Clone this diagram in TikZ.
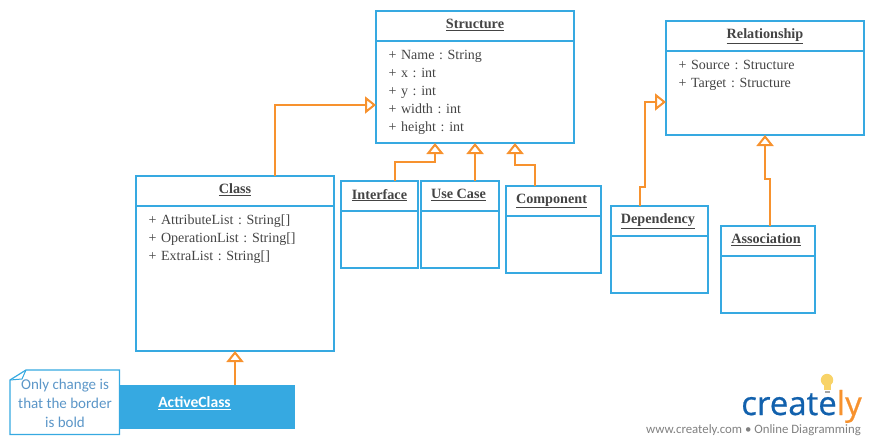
\documentclass[tikz,border=0pt]{standalone}
\usepackage{fontspec}
\setmainfont{Liberation Serif}
\newfontfamily\notefont{Carlito}
\newfontfamily\logofont[FakeBold=0.6]{Open Sans}
\usetikzlibrary{arrows.meta, positioning, calc}
\definecolor{umlblue}{HTML}{36A9E1}
\definecolor{umlorange}{HTML}{F7922E}
\definecolor{umltext}{HTML}{444444}
\definecolor{notetext}{HTML}{5B96C8}
\definecolor{logoblue}{HTML}{1261AD}
\definecolor{bulbyellow}{HTML}{F8D368}
\tikzset{
  x=1pt, y=-1pt,
  umltitle/.style={draw=umlblue, line width=1.8pt, outer sep=0pt, inner sep=0pt, anchor=north west,
    font=\fontsize{14.2}{14}\selectfont\bfseries\frenchspacing, text=umltext, align=center},
  umlbody/.style={draw=umlblue, line width=1.8pt, outer sep=0pt, inner sep=0pt, below=0pt of #1,
    font=\fontsize{14}{18}\selectfont\frenchspacing, text=umltext, align=left},
  inherit/.style={draw=umlorange, line width=2pt,
    -{Triangle[open, fill=white, length=11pt, width=17pt, line width=2pt]}},
}
\begin{document}
\begin{tikzpicture}
\useasboundingbox (0,0) rectangle (875,445);
% base class
\node[umltitle, minimum width=198pt, minimum height=30pt] (structure_title) at (376,11) {\raisebox{4pt}{\underline{Structure}}};
\node[umlbody=structure_title, minimum width=198pt, minimum height=102pt, text width=173pt] (structure_body)
  {+ Name : String\\+ x : int\\+ y : int\\+ width : int\\+ height : int};
\node[umltitle, minimum width=198pt, minimum height=30pt] (relationship_title) at (666,21) {\raisebox{2pt}{\underline{Relationship}}};
\node[umlbody=relationship_title, minimum width=198pt, minimum height=84pt, text width=173pt] (relationship_body)
  {+ Source : Structure\\+ Target : Structure\\[20pt]\mbox{}};
\node[umltitle, minimum width=198pt, minimum height=30pt] (class_title) at (136,176) {\raisebox{4pt}{\underline{Class}}};
\node[umlbody=class_title, minimum width=198pt, minimum height=145pt, text width=173pt] (class_body)
  {+ AttributeList : String[]\\+ OperationList : String[]\\+ ExtraList : String[]\\[64pt]\mbox{}};
% small classes
\node[umltitle, minimum width=77pt, minimum height=30pt] (interface_title) at (341,181) {\raisebox{4pt}{\underline{Interface}}};
\node[umlbody=interface_title, minimum width=77pt, minimum height=57pt] (interface_body) {};
\node[umltitle, minimum width=78pt, minimum height=30pt] (usecase_title) at (421,181) {\hspace{-3pt}\raisebox{4pt}{\underline{Use Case}}};
\node[umlbody=usecase_title, minimum width=78pt, minimum height=57pt] (usecase_body) {};
\node[umltitle, minimum width=95pt, minimum height=30pt] (component_title) at (506,186) {\hspace{-4pt}\raisebox{2pt}{\underline{Component}}};
\node[umlbody=component_title, minimum width=95pt, minimum height=57pt] (component_body) {};
\node[umltitle, minimum width=97pt, minimum height=30pt] (dependency_title) at (611,206) {\hspace{-3pt}\raisebox{2pt}{\underline{Dependency}}};
\node[umlbody=dependency_title, minimum width=97pt, minimum height=57pt] (dependency_body) {};
\node[umltitle, minimum width=94pt, minimum height=30pt] (association_title) at (721,226) {\hspace{-4pt}\raisebox{4pt}{\underline{Association}}};
\node[umlbody=association_title, minimum width=94pt, minimum height=57pt] (association_body) {};
% active class and its note
\node[fill=umlblue, outer sep=0pt, inner sep=0pt, anchor=north west, minimum width=198pt, minimum height=44pt,
  text=white, font=\fontsize{15.6}{15}\selectfont\notefont\bfseries] (activeclass) at (97,385) {\hspace{-3pt}\raisebox{10pt}{\underline{ActiveClass}}};
\draw[umlblue, line width=1.2pt, fill=white] (10,380) -- (26,370) -- (119.5,370) -- (119.5,434.5) -- (10,434.5) -- cycle;
\draw[umlblue, line width=1pt] (10,380) -- (22,379) -- (26,370);
\node[text=notetext, align=center, inner sep=0pt, font=\fontsize{15}{19}\selectfont\notefont] (note) at (65,403) {Only change is\\that the border\\is bold};
% inheritance
\draw[inherit] ([xshift=40pt]class_title.north) |- ([yshift=-13pt]structure_body.west);
\draw[inherit] ([xshift=-23pt]interface_title.north east) -- ++(0,-19) -| ([xshift=-40pt]structure_body.south);
\draw[inherit] ([xshift=15pt]usecase_title.north) -- (structure_body.south);
\draw[inherit] ([xshift=-18.5pt]component_title.north) -- ++(0,-21) -| ([xshift=40pt]structure_body.south);
\draw[inherit] ([xshift=29pt]dependency_title.north west) -- ++(0,-19) -- ++(5,0) |- ([yshift=-9pt]relationship_body.west);
\draw[inherit] ([xshift=2pt]association_title.north) -- ++(0,-47) -| (relationship_body.south);
\draw[inherit] ([xshift=39pt]activeclass.north) -- ([xshift=0pt]class_body.south);
% logo
\node[inner sep=0pt, anchor=base east, text=logoblue, font=\fontsize{33}{33}\selectfont\logofont] (logo) at (862,415) {\smash{create\textcolor{umlorange}{ly}}};
\fill[bulbyellow] (827,380) circle (6.2pt);
\fill[bulbyellow] (823.5,383) rectangle (830.5,390);
\fill[gray!70] (824.5,391) rectangle (829.5,393);
\node[inner sep=0pt, anchor=base east, text=gray, font=\fontsize{12.8}{12.8}\selectfont\notefont] (tagline) at (861,433) {www.creately.com • Online Diagramming};
\end{tikzpicture}
\end{document}
